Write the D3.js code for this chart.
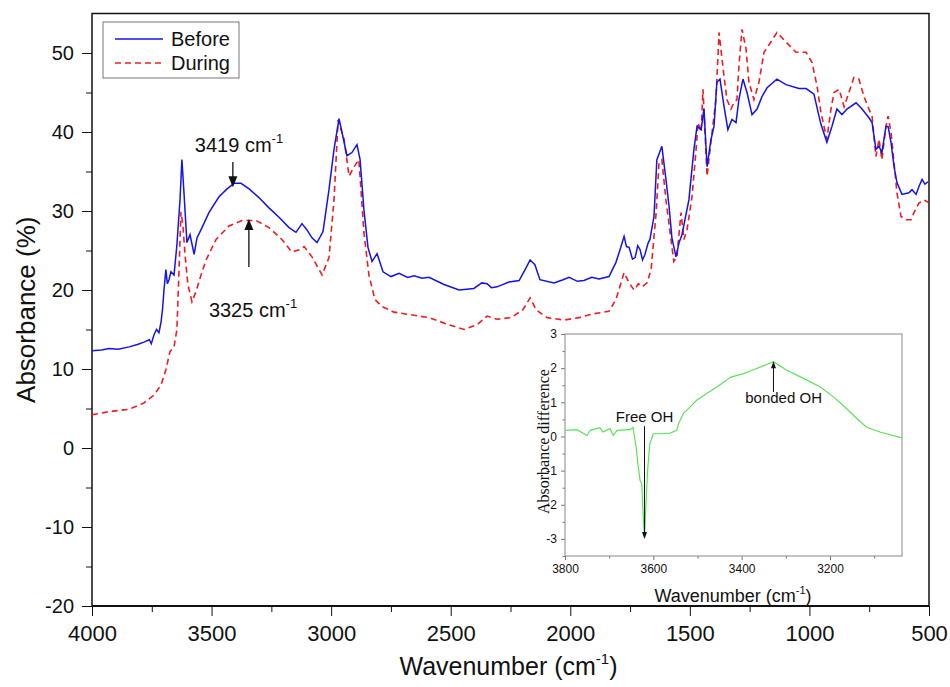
<!DOCTYPE html>
<html lang="en">
<head>
<meta charset="utf-8"/>
<title>FTIR absorbance before / during</title>
<script src="https://cdnjs.cloudflare.com/ajax/libs/d3/7.8.5/d3.min.js"></script>
<style>
    body { margin: 0; background: #fff; }
    text { font-family: Arial, "Liberation Sans", sans-serif; fill: #111; }
    .frame { fill: none; stroke: #111; stroke-width: 1.5px; }
    .inset-frame { fill: none; stroke: #888; stroke-width: 1px; }
    .tick line { stroke: #111; }
    .inset .tick line { stroke: #777; }
</style>
</head>
<body>
<svg id="chart" width="950" height="687"></svg>
<script>
// wavenumber (cm-1), absorbance (%)
var beforeSeries = [
    [4000,12.3],[3960,12.4],[3929,12.6],[3890,12.5],[3845,12.8],[3810,13.1],[3783,13.4],[3760,13.7],
    [3752,13.2],[3741,14.3],[3730,15.0],[3720,14.6],[3711,16.0],[3705,17.6],[3699,20.0],[3691,22.6],
    [3685,20.8],[3678,21.3],[3670,22.3],[3657,21.9],[3645,25.7],[3632,31.4],[3624,36.5],[3615,32.1],
    [3603,26.0],[3590,27.0],[3573,24.5],[3561,26.6],[3540,27.9],[3511,29.8],[3469,31.8],[3435,32.8],
    [3406,33.5],[3377,33.5],[3343,32.8],[3302,31.7],[3260,30.4],[3218,29.2],[3176,27.9],[3147,27.3],
    [3122,28.4],[3101,27.6],[3080,26.6],[3059,26.0],[3034,27.4],[3009,32.7],[2988,37.8],[2967,41.7],
    [2950,39.3],[2934,37.0],[2913,37.4],[2892,38.4],[2879,36.5],[2863,30.2],[2846,25.4],[2829,23.6],
    [2808,24.6],[2783,22.3],[2750,21.7],[2716,22.1],[2680,21.6],[2653,21.8],[2620,21.5],[2591,21.6],
    [2528,20.7],[2465,20.0],[2403,20.2],[2370,20.9],[2348,20.8],[2330,20.3],[2306,20.4],[2256,21.0],
    [2214,21.2],[2185,22.8],[2168,23.8],[2148,23.2],[2127,21.3],[2068,20.9],[2030,21.3],[2005,21.6],
    [1970,21.1],[1943,21.2],[1910,21.6],[1880,21.4],[1838,21.7],[1809,23.5],[1792,25.1],[1775,26.8],
    [1765,25.5],[1754,25.4],[1740,23.9],[1729,24.1],[1718,25.6],[1708,25.1],[1698,23.8],[1688,24.5],
    [1675,25.9],[1667,26.4],[1650,29.3],[1638,36.5],[1617,38.2],[1600,34.0],[1587,30.6],[1575,26.6],
    [1558,24.2],[1545,26.0],[1533,27.0],[1504,31.4],[1483,37.8],[1470,40.7],[1453,40.3],[1441,42.9],
    [1428,35.6],[1412,39.0],[1399,40.7],[1387,46.3],[1374,46.7],[1357,43.2],[1341,40.3],[1324,41.6],
    [1307,41.2],[1295,44.1],[1278,46.7],[1261,45.0],[1240,42.2],[1219,42.9],[1198,44.5],[1177,45.6],
    [1136,46.7],[1098,46.0],[1044,45.5],[1014,45.5],[981,44.8],[960,42.0],[952,41.0],[927,38.7],
    [906,40.7],[885,42.9],[864,42.2],[843,42.9],[805,43.7],[780,42.9],[751,41.8],[738,41.2],
    [722,37.8],[709,38.2],[697,37.4],[680,40.7],[671,40.7],[659,38.7],[646,35.6],[634,33.6],
    [613,32.1],[584,32.3],[571,32.7],[554,32.1],[542,33.1],[529,34.0],[517,33.4],[504,33.7]
];

var duringSeries = [
    [4000,4.2],[3929,4.6],[3845,4.9],[3783,5.7],[3741,6.7],[3711,8.0],[3691,9.9],[3674,12.2],
    [3657,12.8],[3645,15.0],[3636,22.6],[3628,29.9],[3620,28.3],[3611,24.5],[3599,20.7],[3582,18.5],
    [3565,19.8],[3544,21.9],[3523,23.8],[3481,26.4],[3427,28.1],[3373,28.8],[3314,28.8],[3260,27.9],
    [3206,26.4],[3164,24.8],[3134,25.1],[3113,25.5],[3080,24.2],[3038,21.9],[3009,24.1],[2988,31.4],
    [2971,41.5],[2946,39.1],[2925,34.4],[2904,35.6],[2884,36.5],[2863,27.3],[2842,21.9],[2817,18.8],
    [2787,17.9],[2737,17.2],[2674,16.9],[2591,16.5],[2507,15.6],[2444,15.0],[2390,15.6],[2348,16.7],
    [2306,16.3],[2248,16.5],[2198,17.5],[2168,19.0],[2143,17.5],[2097,16.5],[2026,16.2],[1964,16.5],
    [1901,17.0],[1838,17.3],[1809,18.8],[1775,22.2],[1754,20.9],[1733,20.0],[1715,20.8],[1700,20.4],
    [1679,20.9],[1662,22.6],[1641,29.8],[1629,36.1],[1617,36.5],[1600,31.4],[1579,26.4],[1567,23.6],
    [1554,24.2],[1537,29.8],[1525,26.4],[1512,27.6],[1491,31.8],[1474,37.8],[1466,41.2],[1453,40.0],
    [1445,45.4],[1428,34.4],[1412,38.7],[1391,44.1],[1378,52.6],[1357,47.0],[1345,44.1],[1328,42.9],
    [1316,43.7],[1303,44.1],[1295,48.3],[1282,53.0],[1265,50.5],[1253,46.3],[1232,44.1],[1211,46.3],
    [1190,50.1],[1161,51.4],[1136,52.6],[1098,51.4],[1056,50.1],[1014,50.1],[989,48.8],[968,45.8],
    [952,42.5],[939,40.7],[927,39.1],[910,42.9],[897,45.0],[876,45.4],[855,43.2],[835,45.0],
    [814,46.9],[793,46.7],[772,44.5],[751,42.9],[738,42.0],[722,36.9],[709,39.1],[697,36.5],
    [680,40.7],[671,42.0],[659,40.0],[646,36.1],[634,32.3],[617,29.3],[596,28.9],[575,28.9],
    [563,29.8],[542,31.0],[521,31.4],[504,31.1]
];

// inset: wavenumber (cm-1), absorbance difference
var differenceSeries = [
    [3800,0.18],[3773,0.20],[3750,0.03],[3743,0.18],[3721,0.26],[3714,0.13],[3698,0.23],[3691,0.03],
    [3682,0.18],[3653,0.20],[3646,0.26],[3639,-0.31],[3634,-0.90],[3630,-1.29],[3626,-1.39],[3624,-2.08],
    [3620,-2.96],[3617,-2.08],[3613,-1.00],[3608,-0.22],[3600,0.08],[3585,0.08],[3562,0.10],[3547,0.18],
    [3543,0.37],[3532,0.67],[3517,0.86],[3502,1.06],[3479,1.26],[3456,1.45],[3434,1.65],[3426,1.73],
    [3396,1.84],[3366,1.99],[3328,2.19],[3298,1.94],[3260,1.70],[3222,1.45],[3192,1.16],[3162,0.81],
    [3139,0.52],[3117,0.27],[3087,0.13],[3037,-0.04]
];

var xTicks = [4000, 3500, 3000, 2500, 2000, 1500, 1000, 500];
var xMinorTicks = [3750, 3250, 2750, 2250, 1750, 1250, 750];
var yTicks = [-20, -10, 0, 10, 20, 30, 40, 50];
var yMinorTicks = [-15, -5, 5, 15, 25, 35, 45];
var insetXTicks = [3800, 3600, 3400, 3200];
var insetXMinorTicks = [3700, 3500, 3300, 3100];
var insetYTicks = [-3, -2, -1, 0, 1, 2, 3];
var insetYMinorTicks = [-3.5, -2.5, -1.5, -0.5, 0.5, 1.5, 2.5];
var seriesNames = ["Before", "During"];
var seriesColors = ["#1414e6", "#ee1d23"];

var svg = d3.select("#chart");

var x = d3.scaleLinear().domain([4000, 500]).range([92, 929]);
var y = d3.scaleLinear().domain([-20, 55]).range([606, 13.5]);

// axes
svg.append("g")
    .attr("transform", "translate(0,606)")
    .call(d3.axisBottom(x).tickValues(xMinorTicks).tickSize(6).tickFormat(""))
    .call(function(g) { g.select(".domain").remove(); });
svg.append("g")
    .attr("transform", "translate(0,606)")
    .call(d3.axisBottom(x).tickValues(xTicks).tickSize(10).tickPadding(9).tickFormat(function(d) { return d; }))
    .call(function(g) {
        g.select(".domain").remove();
        g.selectAll("text").style("font-size", "22px").attr("fill", "#111");
    });
svg.append("g")
    .attr("transform", "translate(92,0)")
    .call(d3.axisLeft(y).tickValues(yMinorTicks).tickSize(6).tickFormat(""))
    .call(function(g) { g.select(".domain").remove(); });
svg.append("g")
    .attr("transform", "translate(92,0)")
    .call(d3.axisLeft(y).tickValues(yTicks).tickSize(10).tickPadding(8).tickFormat(function(d) { return d; }))
    .call(function(g) {
        g.select(".domain").remove();
        g.selectAll("text").style("font-size", "20px").attr("fill", "#111");
    });

svg.append("rect")
    .attr("class", "frame")
    .attr("x", x(4000)).attr("y", y(55))
    .attr("width", x(500) - x(4000)).attr("height", y(-20) - y(55));
svg.append("line")
    .attr("x1", x(4000)).attr("x2", x(500)).attr("y1", y(-20)).attr("y2", y(-20))
    .attr("stroke", "#111").attr("stroke-width", 2.2);

svg.append("text")
    .attr("transform", "translate(35," + ((y(55) + y(-20)) / 2) + ") rotate(-90)")
    .attr("text-anchor", "middle")
    .style("font-size", "26px")
    .text("Absorbance (%)");

var xt = svg.append("text")
    .attr("x", (x(4000) + x(500)) / 2 - 2)
    .attr("y", 675)
    .attr("text-anchor", "middle")
    .style("font-size", "25px");
xt.append("tspan").text("Wavenumber (cm");
xt.append("tspan").attr("dy", -11).style("font-size", "15px").text("-1");
xt.append("tspan").attr("dy", 11).text(")");

// spectra
var line = d3.line()
    .x(function(d) { return x(d[0]); })
    .y(function(d) { return y(d[1]); });

svg.append("path")
    .datum(duringSeries)
    .attr("fill", "none")
    .attr("stroke", seriesColors[1])
    .attr("stroke-width", 1.6)
    .attr("stroke-dasharray", "6,4")
    .attr("d", line);

svg.append("path")
    .datum(beforeSeries)
    .attr("fill", "none")
    .attr("stroke", seriesColors[0])
    .attr("stroke-width", 1.5)
    .attr("d", line);

// legend
var legend = svg.append("g");
legend.append("rect")
    .attr("x", 103).attr("y", 22).attr("width", 136).attr("height", 56)
    .attr("fill", "#fff").attr("stroke", "#777").attr("stroke-width", 1);
seriesNames.forEach(function(name, i) {
    var ly = 39 + i * 24;
    legend.append("line")
        .attr("x1", 115).attr("x2", 163).attr("y1", ly).attr("y2", ly)
        .attr("stroke", seriesColors[i]).attr("stroke-width", 1.5)
        .attr("stroke-dasharray", i === 1 ? "6,4" : null);
    legend.append("text")
        .attr("x", 171).attr("y", ly + 7)
        .style("font-size", "20px")
        .text(name);
});

// arrows
function arrow(g, x0, yTail, yTip, len, half, width) {
    var dir = yTip > yTail ? 1 : -1;
    g.append("line")
        .attr("x1", x0).attr("x2", x0)
        .attr("y1", yTail).attr("y2", yTip - dir * len * 0.6)
        .attr("stroke", "#111").attr("stroke-width", width);
    g.append("path")
        .attr("d", "M" + x0 + "," + yTip + "L" + (x0 - half) + "," + (yTip - dir * len) +
            "L" + (x0 + half) + "," + (yTip - dir * len) + "Z")
        .attr("fill", "#111");
}

function label(g, lx, ly, main, sup, size) {
    var t = g.append("text").attr("x", lx).attr("y", ly).style("font-size", size + "px");
    t.append("tspan").text(main);
    t.append("tspan").attr("dy", -size * 0.45).style("font-size", (size * 0.65) + "px").text(sup);
}

var ann = svg.append("g");
arrow(ann, x(3411), y(36.2), y(33.0), 11, 4.5, 1.3);
label(ann, x(3411) - 38, y(37.5), "3419 cm", "-1", 20);
arrow(ann, x(3344), y(22.9), y(29.0), 11, 4.5, 1.3);
label(ann, x(3344) - 40, y(16.6), "3325 cm", "-1", 20);

// inset
var ix = d3.scaleLinear().domain([3800, 3037]).range([565, 902]);
var iy = d3.scaleLinear().domain([-3.5, 3]).range([556, 334]);
var inset = svg.append("g").attr("class", "inset");

inset.append("g")
    .attr("transform", "translate(0,556)")
    .call(d3.axisBottom(ix).tickValues(insetXMinorTicks).tickSize(2.5).tickFormat(""))
    .call(function(g) { g.select(".domain").remove(); });
inset.append("g")
    .attr("transform", "translate(0,556)")
    .call(d3.axisBottom(ix).tickValues(insetXTicks).tickSize(4).tickPadding(4).tickFormat(function(d) { return d; }))
    .call(function(g) {
        g.select(".domain").remove();
        g.selectAll("text").style("font-size", "12px").attr("fill", "#222");
    });
inset.append("g")
    .attr("transform", "translate(565,0)")
    .call(d3.axisLeft(iy).tickValues(insetYMinorTicks).tickSize(2.5).tickFormat(""))
    .call(function(g) { g.select(".domain").remove(); });
inset.append("g")
    .attr("transform", "translate(565,0)")
    .call(d3.axisLeft(iy).tickValues(insetYTicks).tickSize(4).tickPadding(4).tickFormat(function(d) { return d; }))
    .call(function(g) {
        g.select(".domain").remove();
        g.selectAll("text").style("font-size", "12px").attr("fill", "#222");
    });

inset.append("rect")
    .attr("class", "inset-frame")
    .attr("x", ix(3800)).attr("y", iy(3))
    .attr("width", ix(3037) - ix(3800)).attr("height", iy(-3.5) - iy(3));

var iline = d3.line()
    .x(function(d) { return ix(d[0]); })
    .y(function(d) { return iy(d[1]); });

inset.append("path")
    .datum(differenceSeries)
    .attr("fill", "none")
    .attr("stroke", "#5ee05a")
    .attr("stroke-width", 1.2)
    .attr("d", iline);

inset.append("text")
    .attr("transform", "translate(549," + iy(-0.15) + ") rotate(-90)")
    .attr("text-anchor", "middle")
    .style("font-family", "'Liberation Serif', 'Times New Roman', serif")
    .style("font-size", "16px")
    .text("Absorbance difference");

var ixt = inset.append("text")
    .attr("x", 733).attr("y", 602)
    .attr("text-anchor", "middle")
    .style("font-size", "18px");
ixt.append("tspan").text("Wavenumber (cm");
ixt.append("tspan").attr("dy", -8).style("font-size", "11px").text("-1");
ixt.append("tspan").attr("dy", 8).text(")");

arrow(inset, ix(3620), iy(0.3), iy(-3.0), 7, 2.5, 1);
inset.append("text")
    .attr("x", ix(3620)).attr("y", iy(0.42))
    .attr("text-anchor", "middle")
    .style("font-size", "15px")
    .text("Free OH");

arrow(inset, ix(3328), iy(1.3), iy(2.2), 7, 2.5, 1);
inset.append("text")
    .attr("x", ix(3305)).attr("y", iy(0.97))
    .attr("text-anchor", "middle")
    .style("font-size", "15px")
    .text("bonded OH");
</script>
</body>
</html>
